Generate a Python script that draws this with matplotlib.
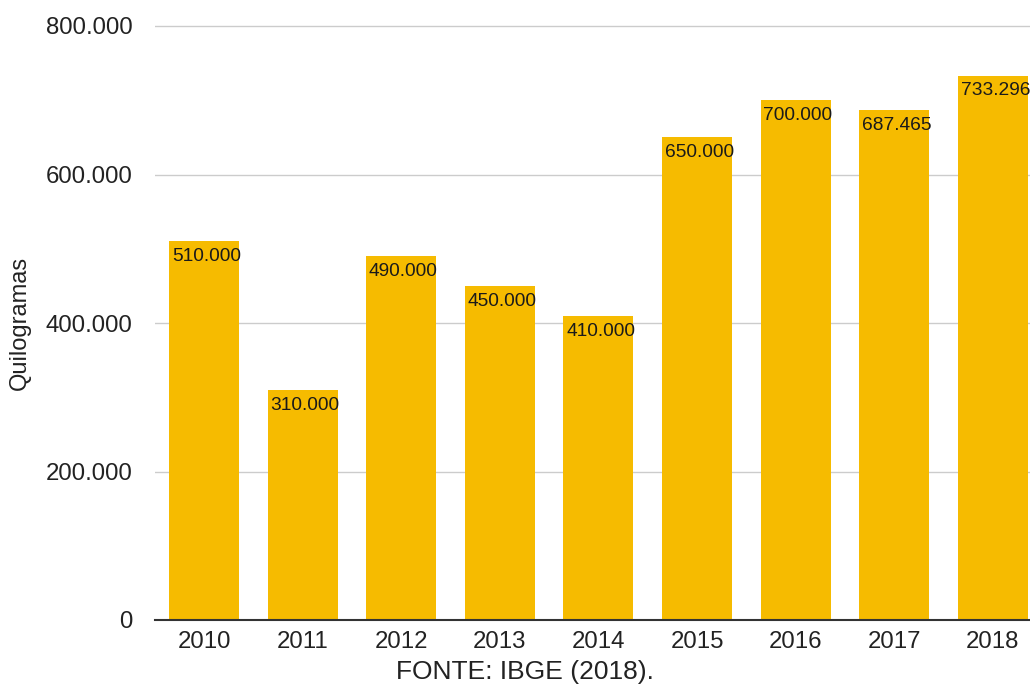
import matplotlib.pyplot as plt
from matplotlib.ticker import FuncFormatter

# Data
years = ['2010', '2011', '2012', '2013', '2014', '2015', '2016', '2017', '2018']
kg = [510000, 310000, 490000, 450000, 410000, 650000, 700000, 687465, 733296]
bar_labels = ['510.000', '310.000', '490.000', '450.000', '410.000',
              '650.000', '700.000', '687.465', '733.296']

plt.rcParams['font.family'] = ['Liberation Sans', 'DejaVu Sans']

W, H = 1030, 687
fig = plt.figure(figsize=(W / 100, H / 100), dpi=100)

# axes placement in pixels: 0 -> y=620, 800.000 -> y=26
y0_px, y800_px = 620, 26
ymax = 820000
top_px = y0_px - (y0_px - y800_px) * ymax / 800000
ax = fig.add_axes([155 / W, (H - y0_px) / H, (W - 155) / W, (y0_px - top_px) / H])

x = range(len(years))
bar_w = 0.71
bars = ax.bar(x, kg, width=bar_w, color='#F6BB00', zorder=2)

# value labels inside bars, top-left corner
for b, lab in zip(bars, bar_labels):
    ax.annotate(lab, (b.get_x(), b.get_height()), xytext=(2, -5),
                textcoords='offset points', ha='left', va='top',
                fontsize=13.8, color='#1a1a1a', zorder=3)

ax.set_xlim(-0.497, 8.377)
ax.set_ylim(0, ymax)
ax.set_yticks([0, 200000, 400000, 600000, 800000])
ax.yaxis.set_major_formatter(FuncFormatter(lambda v, p: f'{int(v):,}'.replace(',', '.')))
ax.set_xticks(list(x))
ax.set_xticklabels(years)

ax.grid(axis='y', color='#cccccc', linewidth=1, zorder=0)
ax.tick_params(axis='both', length=0, labelsize=17.3, colors='#222222')
ax.tick_params(axis='y', pad=16)
ax.tick_params(axis='x', pad=8)

for s in ['top', 'right', 'left']:
    ax.spines[s].set_visible(False)
ax.spines['bottom'].set_color('#333333')
ax.spines['bottom'].set_linewidth(1.5)
ax.spines['bottom'].set_zorder(4)

fig.text(20 / W, (H - 323) / H, 'Quilogramas', rotation=90, ha='center', va='center',
         fontsize=17, color='#222222')
fig.text(525 / W, (H - 672) / H, 'FONTE: IBGE (2018).', ha='center', va='center',
         fontsize=19, color='#222222')

fig.savefig('out.png', dpi=100)
